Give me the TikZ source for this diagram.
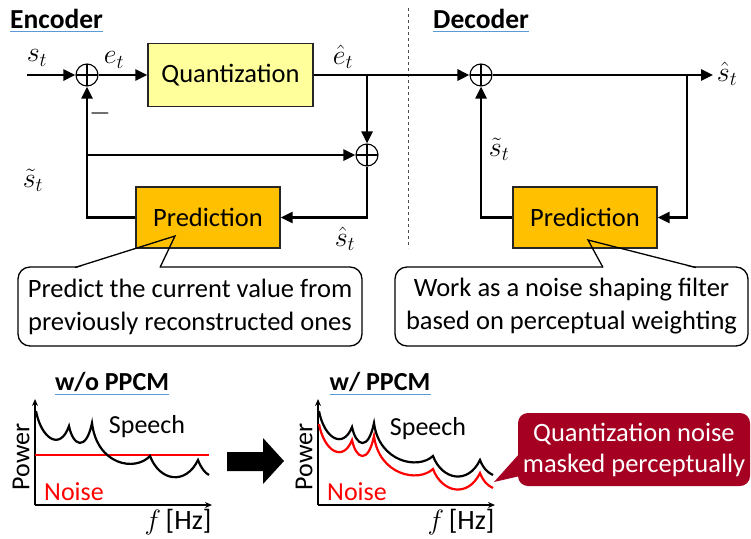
\RequirePackage{fix-cm}
\documentclass[tikz,border=0pt]{standalone}
\usepackage{fontspec}
\setmainfont{Carlito}
\usetikzlibrary{arrows.meta}
\definecolor{qyel}{HTML}{FFFF9B}
\definecolor{porange}{HTML}{FFC000}
\definecolor{dred}{HTML}{A50021}
\definecolor{ulblue}{HTML}{5B9BD5}
\definecolor{nred}{HTML}{FF0000}
\begin{document}
\begin{tikzpicture}[x=1pt,y=-1pt,
  conn/.style={line width=2.6pt,-{Triangle[length=12pt,width=11pt]}},
  plain/.style={line width=2.6pt},
  sumnode/.style={circle,draw,line width=1.1pt,minimum size=22pt,inner sep=0pt,fill=white,
    path picture={\draw[line width=1.1pt] (path picture bounding box.north) -- (path picture bounding box.south)
      (path picture bounding box.west) -- (path picture bounding box.east);}},
  blockbox/.style={draw=black!85,line width=1.3pt,inner sep=0pt,font=\fontsize{26.5}{30}\selectfont},
  mlabel/.style={inner sep=0pt,font=\fontsize{28}{32}\selectfont},
  title/.style={inner sep=0pt,font=\fontsize{27.5}{30}\selectfont\bfseries},
  ul/.style={ulblue,line width=1pt},
  calloutbox/.style={draw,line width=1.3pt,fill=white,rounded corners=12pt,align=center,inner sep=0pt,
    font=\fontsize{26.5}{33}\selectfont},
  axis/.style={line width=1.6pt,-{Stealth[length=7pt,width=6pt]}},
  ptext/.style={inner sep=0pt,font=\fontsize{26}{30}\selectfont}
]
\useasboundingbox (0,0) rectangle (751,538);

% titles
\node[title,anchor=base west] (enc) at (10,28) {Encoder};
\draw[ul] ([yshift=-3pt]enc.south west) -- ([yshift=-3pt]enc.south east);
\node[title,anchor=base west] (dec) at (433,28) {Decoder};
\draw[ul] ([yshift=-3pt]dec.south west) -- ([yshift=-3pt]dec.south east);

% dashed separator
\coordinate (dtop) at (408,8);
\coordinate (dbot) at (408,248);
\draw[dashed,line width=0.8pt,black!70] (dtop) -- (dbot);

% encoder blocks
\node[sumnode] (sum1) at (87,75) {};
\node[blockbox,fill=qyel,minimum width=165pt,minimum height=63pt] (quant) at (230.5,75) {Quantization};
\node[sumnode] (sum2) at (367,155) {};
\node[blockbox,fill=porange,minimum width=144pt,minimum height=61pt] (pred1) at (208,217.5) {Prediction};

% decoder blocks
\node[sumnode] (sum3) at (481,75) {};
\node[blockbox,fill=porange,minimum width=144pt,minimum height=61pt] (pred2) at (585,217.5) {Prediction};

\coordinate (in) at (27,75);
\coordinate (br1) at (367,75);
\coordinate (c1) at (87,155);
\coordinate (br2) at (687,75);
\coordinate (out) at (713,75);

% encoder connectors
\draw[conn] (in) -- (sum1);
\draw[conn] (sum1) -- (quant);
\draw[conn] (quant) -- (sum3);
\draw[conn] (br1) -- (sum2);
\draw[conn] (c1) -- (sum2);
\draw[conn] (sum2) |- (pred1);
\draw[conn] (pred1) -| (sum1);
% decoder connectors
\draw[conn] (sum3) -- (out);
\draw[conn] (br2) |- (pred2);
\draw[conn] (pred2) -| (sum3);

% labels
\node[mlabel] (ls) at (37,58) {$s_t$};
\node[mlabel] (le) at (114,60) {$e_t$};
\node[mlabel] (leh) at (343,57) {$\hat{e}_t$};
\node[mlabel] (lminus) at (100,113) {$-$};
\node[mlabel] (lst1) at (33,180) {$\tilde{s}_t$};
\node[mlabel] (lsh1) at (345,239) {$\hat{s}_t$};
\node[mlabel] (lsh2) at (727,74) {$\hat{s}_t$};
\node[mlabel] (lst2) at (499,149) {$\tilde{s}_t$};

% callout 1
\node[calloutbox,minimum width=344pt,minimum height=79pt] (co1) at (190,306.5)
  {Predict the current value from\\previously reconstructed ones};
\coordinate (tip1) at (175,236);
\coordinate (b1a) at (75,267.5);
\coordinate (b1b) at (160,267.5);
\begin{scope}
\clip (0,249) rectangle (751,290);
\fill[white] (b1a) ++(0,1) -- (tip1) -- ([yshift=-1pt]b1b) -- cycle;
\end{scope}
\draw[line width=1.3pt] (b1a) -- (tip1) -- (b1b);

% callout 2
\node[calloutbox,minimum width=353pt,minimum height=79pt] (co2) at (571.5,306.5)
  {Work as a noise shaping filter\\based on perceptual weighting};
\coordinate (tip2) at (588,240);
\coordinate (b2a) at (603,267.5);
\coordinate (b2b) at (696,267.5);
\begin{scope}
\clip (0,249) rectangle (751,290);
\fill[white] (b2a) ++(0,1) -- (tip2) -- ([yshift=-1pt]b2b) -- cycle;
\end{scope}
\draw[line width=1.3pt] (b2a) -- (tip2) -- (b2b);

% bottom-left plot
\node[title,font=\fontsize{26}{30}\selectfont\bfseries] (wo) at (112,382) {w/o PPCM};
\draw[ul] ([yshift=-3pt]wo.south west) -- ([yshift=-3pt]wo.south east);
\coordinate (o1) at (35,505);
\coordinate (y1) at (35,399);
\coordinate (x1) at (212,505);
\draw[axis] (o1) -- (y1);
\draw[axis] (o1) -- (x1);
\node[ptext,rotate=90] (pw1) at (21,457) {Power};
\node[ptext,text=nred] (nz1) at (74,492) {Noise};
\node[ptext] (sp1) at (147,427) {Speech};
\node[ptext,font=\fontsize{28}{30}\selectfont] (hz1) at (178,522) {$f$\,[Hz]};
\coordinate (n1a) at (35,455);
\coordinate (n1b) at (209,455);
\draw[nred,line width=2.2pt] (n1a) -- (n1b);
\draw[line width=2.2pt,line join=miter]
  (36,411) .. controls (41,438) and (60,452) .. (69,426)
  .. controls (73,446) and (86,452) .. (92,423)
  .. controls (97,465) and (135,472) .. (150,456)
  .. controls (160,482) and (186,485) .. (198,460)
  .. controls (201,468) and (205,473) .. (209,475);

% big arrow
\fill (227,452) -- (263,452) -- (263,438) -- (284,461) -- (263,484) -- (263,471) -- (227,471) -- cycle;

% bottom-right plot
\node[title,font=\fontsize{26}{30}\selectfont\bfseries] (wi) at (380,382) {w/ PPCM};
\draw[ul] ([yshift=-3pt]wi.south west) -- ([yshift=-3pt]wi.south east);
\coordinate (o2) at (318,505);
\coordinate (y2) at (318,399);
\coordinate (x2) at (495,505);
\draw[axis] (o2) -- (y2);
\draw[axis] (o2) -- (x2);
\node[ptext,rotate=90] (pw2) at (304,457) {Power};
\node[ptext,text=nred] (nz2) at (357,492) {Noise};
\node[ptext] (sp2) at (428,429) {Speech};
\node[ptext,font=\fontsize{28}{30}\selectfont] (hz2) at (461,522) {$f$\,[Hz]};
\foreach \dy/\col in {-13/nred,0/black}{
\draw[\col,line width=2.2pt,yshift=\dy pt]
  (319,411) .. controls (324,438) and (343,450) .. (352,427)
  .. controls (356,446) and (368,452) .. (374,423)
  .. controls (379,462) and (418,470) .. (433,456)
  .. controls (442,480) and (468,485) .. (480,460)
  .. controls (483,468) and (488,473) .. (493,475);
}

% red callout
\node[fill=dred,rounded corners=10pt,minimum width=232pt,minimum height=73pt,inner sep=0pt,align=center,
  text=white,font=\fontsize{26.5}{31}\selectfont] (co3) at (634,449.5)
  {Quantization noise\\masked perceptually};
\coordinate (tip3) at (494,482);
\coordinate (b3a) at (520,453);
\coordinate (b3b) at (520,476);
\fill[dred] (b3a) -- (tip3) -- (b3b) -- cycle;
\end{tikzpicture}
\end{document}
